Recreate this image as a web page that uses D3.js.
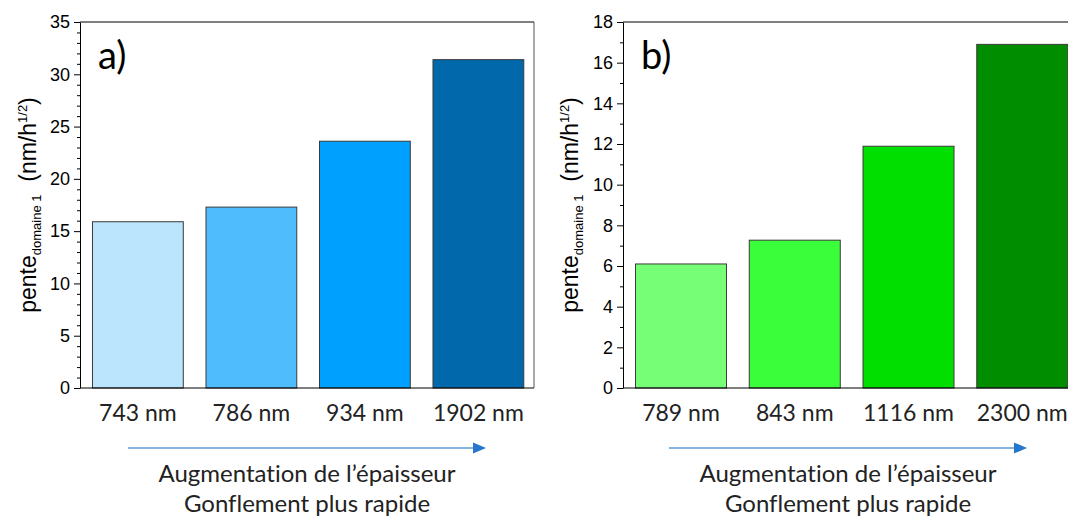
<!DOCTYPE html>
<html><head><meta charset="utf-8">
<script src="https://cdn.jsdelivr.net/npm/d3@7"></script>
<style>
html,body{margin:0;padding:0;background:#fff;}
svg{display:block;}
text{font-variant-ligatures:none;font-feature-settings:"liga" 0;}
</style></head>
<body>
<svg id="chart" width="1068" height="517"></svg>
<script>
// ---- data ----
const categoriesA = ["743 nm", "786 nm", "934 nm", "1902 nm"];
const valuesA = [15.9, 17.3, 23.6, 31.4];
const colorsA = ["#bbe4fd", "#4fbcfe", "#00a1fe", "#0068ab"];
const ticksA = [0, 5, 10, 15, 20, 25, 30, 35];

const categoriesB = ["789 nm", "843 nm", "1116 nm", "2300 nm"];
const valuesB = [6.1, 7.27, 11.89, 16.9];
const colorsB = ["#77fe77", "#3bfe3b", "#00df00", "#008e00"];
const ticksB = [0, 2, 4, 6, 8, 10, 12, 14, 16, 18];

const panelLabels = ["a)", "b)"];
const arrowText = ["Augmentation de l\u2019épaisseur", "Gonflement plus rapide"];

const svg = d3.select("#chart");

function panel(cfg) {
  const {left, right, top, bottom, cats, vals, cols, ticks, yMax, minorStep, label, titleX} = cfg;
  const g = svg.append("g");
  const x = d3.scaleBand().domain(cats).range([left, right]).paddingInner(0.2).paddingOuter(0.1).align(0.55);
  const y = d3.scaleLinear().domain([0, yMax]).range([bottom, top]);

  // bars
  g.selectAll("rect.bar").data(vals).join("rect")
    .attr("class", "bar")
    .attr("x", (d, i) => x(cats[i]))
    .attr("width", x.bandwidth())
    .attr("y", d => y(d))
    .attr("height", d => y(0) - y(d))
    .attr("fill", (d, i) => cols[i])
    .attr("stroke", "#3a3a3a")
    .attr("stroke-width", 1);

  // minor ticks
  const minor = d3.range(0, yMax + 0.001, minorStep).filter(v => !ticks.includes(v));
  g.append("g").attr("transform", `translate(${left},0)`)
    .call(d3.axisLeft(y).tickValues(minor).tickSize(3).tickFormat(""))
    .call(a => a.select(".domain").remove())
    .call(a => a.selectAll("line").attr("stroke", "#000"));

  // major axis
  g.append("g").attr("transform", `translate(${left},0)`)
    .call(d3.axisLeft(y).tickValues(ticks).tickSize(6).tickSizeOuter(0).tickPadding(4))
    .call(a => a.select(".domain").attr("stroke", "#000"))
    .call(a => a.selectAll("line").attr("stroke", "#000"))
    .call(a => a.selectAll("text").attr("font-family", "'Liberation Sans', Arial, sans-serif").attr("font-size", 18).attr("fill", "#000"));

  // frame: bottom, top, right
  g.append("line").attr("x1", left).attr("x2", right).attr("y1", y(0)).attr("y2", y(0)).attr("stroke", "#000");
  g.append("line").attr("x1", left).attr("x2", right).attr("y1", y(yMax)).attr("y2", y(yMax)).attr("stroke", "#000");
  g.append("line").attr("x1", right).attr("x2", right).attr("y1", y(yMax)).attr("y2", y(0)).attr("stroke", "#555");

  // category labels
  g.selectAll("text.cat").data(cats).join("text")
    .attr("class", "cat")
    .attr("x", d => x(d) + x.bandwidth() / 2)
    .attr("y", bottom + 33)
    .attr("text-anchor", "middle")
    .attr("font-family", "Lato, 'Open Sans', sans-serif")
    .attr("font-size", 23)
    .attr("fill", "#222")
    .text(d => d);

  // panel label
  g.append("text").attr("x", left + 18).attr("y", top + 47)
    .attr("font-family", "Lato, 'Open Sans', sans-serif")
    .attr("font-size", 38).attr("fill", "#000").text(label);

  // y title
  const t = g.append("text")
    .attr("transform", `translate(${titleX},${(top + bottom) / 2}) rotate(-90)`)
    .attr("text-anchor", "middle")
    .attr("font-family", "'Liberation Sans', Arial, sans-serif")
    .attr("font-size", 23).attr("fill", "#000");
  t.append("tspan").text("pente");
  t.append("tspan").attr("font-size", 13).attr("dy", 5).text("domaine 1");
  t.append("tspan").attr("dy", -5).text("\u00a0\u00a0(nm/h");
  t.append("tspan").attr("font-size", 13).attr("dy", -9).text("1/2");
  t.append("tspan").attr("dy", 9).text(")");

  // arrow
  const ax1 = cfg.arrowX1, ax2 = cfg.arrowX2, ay = 448;
  g.append("line").attr("x1", ax1).attr("x2", ax2 - 12).attr("y1", ay).attr("y2", ay)
    .attr("stroke", "#5b9bd5").attr("stroke-width", 1.5);
  g.append("path").attr("d", `M${ax2 - 13},${ay - 5.5}L${ax2},${ay}L${ax2 - 13},${ay + 5.5}Z`).attr("fill", "#2676cc");

  const cx = (ax1 + ax2) / 2;
  arrowText.forEach((s, i) => {
    g.append("text").attr("x", cx).attr("y", 482 + i * 30)
      .attr("text-anchor", "middle")
      .attr("font-family", "Lato, 'Open Sans', sans-serif")
      .attr("font-size", 24).attr("fill", "#222").text(s);
  });
}

panel({left: 80, right: 534, top: 22, bottom: 388, cats: categoriesA, vals: valuesA, cols: colorsA,
  ticks: ticksA, yMax: 35, minorStep: 1, label: panelLabels[0], titleX: 36, arrowX1: 128, arrowX2: 486});
panel({left: 623, right: 1078, top: 22, bottom: 388, cats: categoriesB, vals: valuesB, cols: colorsB,
  ticks: ticksB, yMax: 18, minorStep: 1, label: panelLabels[1], titleX: 578, arrowX1: 669, arrowX2: 1027});
</script>
</body></html>
